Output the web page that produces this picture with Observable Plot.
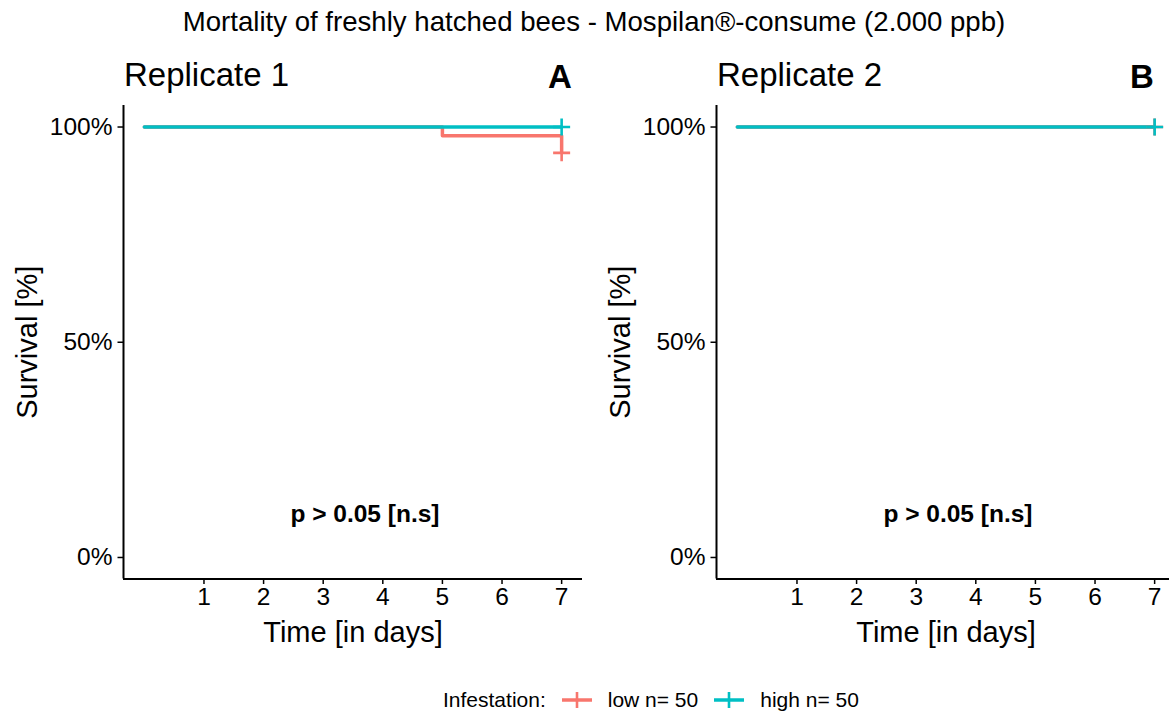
<!DOCTYPE html>
<html><head><meta charset="utf-8">
<script src="https://cdn.jsdelivr.net/npm/d3@7"></script>
<script src="https://cdn.jsdelivr.net/npm/@observablehq/plot@0.6"></script>
<style>
body{margin:0;background:#fff;}
#wrap{position:relative;width:1169px;height:713px;overflow:hidden;font-family:"Liberation Sans",Arial,sans-serif;color:#000;background:#fff;}
.abs{position:absolute;white-space:nowrap;}
#legend{position:absolute;left:443px;top:686px;height:28px;display:flex;align-items:center;font-size:21px;white-space:nowrap;}
</style></head><body><div id="wrap"></div>
<script>
// ---- data ----
const mainTitle = "Mortality of freshly hatched bees - Mospilan®-consume (2.000 ppb)";
const replicates = ["Replicate 1", "Replicate 2"];
const panelTags = ["A", "B"];
const days = [1, 2, 3, 4, 5, 6, 7];
const survivalTicks = [0, 50, 100];
const groups = ["low", "high"];
const groupLabels = ["low n= 50", "high n= 50"];
const groupColors = ["#F8766D", "#00BFC4"];
const legendTitle = "Infestation:";
const xLabel = "Time [in days]";
const yLabel = "Survival [%]";
// Kaplan-Meier step knots (time in days, survival in %)
const rep1LowTime = [0, 5, 7];
const rep1LowSurv = [100, 98, 94];
const rep1HighTime = [0, 7];
const rep1HighSurv = [100, 100];
const rep2LowTime = [0, 7];
const rep2LowSurv = [100, 100];
const rep2HighTime = [0, 7];
const rep2HighSurv = [100, 100];
// censoring marks (low, high)
const censorTime = [7, 7];
const rep1CensorSurv = [94, 100];
const rep2CensorSurv = [100, 100];
const pvalText = "p > 0.05 [n.s]";
const pvalCoord = [3.7, 10];

const FONT = '"Liberation Sans", Arial, sans-serif';

function series(group, times, survs) {
  return times.map((t, i) => ({group, time: t, surv: survs[i]}));
}
const panels = [
  {
    lines: [...series("low", rep1LowTime, rep1LowSurv), ...series("high", rep1HighTime, rep1HighSurv)],
    censors: groups.map((g, i) => ({group: g, time: censorTime[i], surv: rep1CensorSurv[i]}))
  },
  {
    lines: [...series("low", rep2LowTime, rep2LowSurv), ...series("high", rep2HighTime, rep2HighSurv)],
    censors: groups.map((g, i) => ({group: g, time: censorTime[i], surv: rep2CensorSurv[i]}))
  }
];

const plusSymbol = {
  draw(ctx) {
    const r = 8.5;
    ctx.moveTo(-r, 0); ctx.lineTo(r, 0);
    ctx.moveTo(0, -r); ctx.lineTo(0, r);
  }
};

function panelPlot(p) {
  return Plot.plot({
    width: 590, height: 560,
    marginLeft: 123, marginRight: 8, marginTop: 10, marginBottom: 76.5,
    style: {fontFamily: FONT, fontSize: "24px", background: "transparent", overflow: "visible", color: "black"},
    x: {domain: [-0.35, 7.35]},
    y: {domain: [-5, 105]},
    color: {domain: groups, range: groupColors},
    marks: [
      Plot.axisX({ticks: days, tickSize: 5.5, tickPadding: 3, fontSize: 24.5, label: null, stroke: "black", strokeWidth: 1.5, fill: "black"}),
      Plot.axisY({ticks: survivalTicks, tickFormat: d => d + "%", tickSize: 5.5, tickPadding: 5.5, fontSize: 24.5, label: null, stroke: "black", strokeWidth: 1.5, fill: "black"}),
      Plot.ruleX([-0.35], {stroke: "black", strokeWidth: 2}),
      Plot.ruleY([-5], {stroke: "black", strokeWidth: 2}),
      Plot.line(p.lines, {x: "time", y: "surv", z: "group", stroke: "group", curve: "step-after", strokeWidth: 3.5}),
      Plot.dot(p.censors, {x: "time", y: "surv", stroke: "group", symbol: plusSymbol, fill: "none", strokeWidth: 2.6}),
      Plot.text([pvalText], {x: () => pvalCoord[0], y: () => pvalCoord[1], text: d => d, fontWeight: "bold", fontSize: 24.5, fill: "black"}),
      Plot.text([xLabel], {frameAnchor: "bottom", lineAnchor: "middle", text: d => d, dy: 54, fontSize: 29, fill: "black"}),
      Plot.text([yLabel], {frameAnchor: "left", textAnchor: "middle", lineAnchor: "middle", text: d => d, rotate: -90, dx: -96, fontSize: 29, fill: "black"})
    ]
  });
}

const wrap = document.getElementById("wrap");

const title = document.createElement("div");
title.className = "abs";
title.textContent = mainTitle;
Object.assign(title.style, {left: "594px", top: "7px", transform: "translateX(-50%)", fontSize: "27.6px", lineHeight: "30px"});
wrap.appendChild(title);

const offsets = [0, 593];
panels.forEach((p, i) => {
  const svg = panelPlot(p);
  svg.style.position = "absolute";
  svg.style.left = offsets[i] + "px";
  svg.style.top = "95px";
  wrap.appendChild(svg);

  const t = document.createElement("div");
  t.className = "abs";
  t.textContent = replicates[i];
  Object.assign(t.style, {left: (124 + offsets[i]) + "px", top: "57px", fontSize: "33px", lineHeight: "36px"});
  wrap.appendChild(t);

  const tag = document.createElement("div");
  tag.className = "abs";
  tag.textContent = panelTags[i];
  const cx = i === 0 ? 560 : 1142;
  Object.assign(tag.style, {left: cx + "px", top: "59px", transform: "translateX(-50%)", fontSize: "33px", lineHeight: "36px", fontWeight: "bold"});
  wrap.appendChild(tag);
});

// legend
const legend = document.createElement("div");
legend.id = "legend";
const lt = document.createElement("span");
lt.textContent = legendTitle;
legend.appendChild(lt);
groups.forEach((g, i) => {
  const ns = "http://www.w3.org/2000/svg";
  const sw = document.createElementNS(ns, "svg");
  sw.setAttribute("width", 34); sw.setAttribute("height", 24);
  sw.style.margin = "0 14px 0 14px";
  const line = document.createElementNS(ns, "line");
  line.setAttribute("x1", 2); line.setAttribute("x2", 32); line.setAttribute("y1", 12); line.setAttribute("y2", 12);
  line.setAttribute("stroke", groupColors[i]); line.setAttribute("stroke-width", 3.5);
  sw.appendChild(line);
  const v = document.createElementNS(ns, "line");
  v.setAttribute("x1", 17); v.setAttribute("x2", 17); v.setAttribute("y1", 4); v.setAttribute("y2", 20);
  v.setAttribute("stroke", groupColors[i]); v.setAttribute("stroke-width", 2.6);
  sw.appendChild(v);
  legend.appendChild(sw);
  const s = document.createElement("span");
  s.textContent = groupLabels[i];
  legend.appendChild(s);
});
wrap.appendChild(legend);
</script>
</body></html>
